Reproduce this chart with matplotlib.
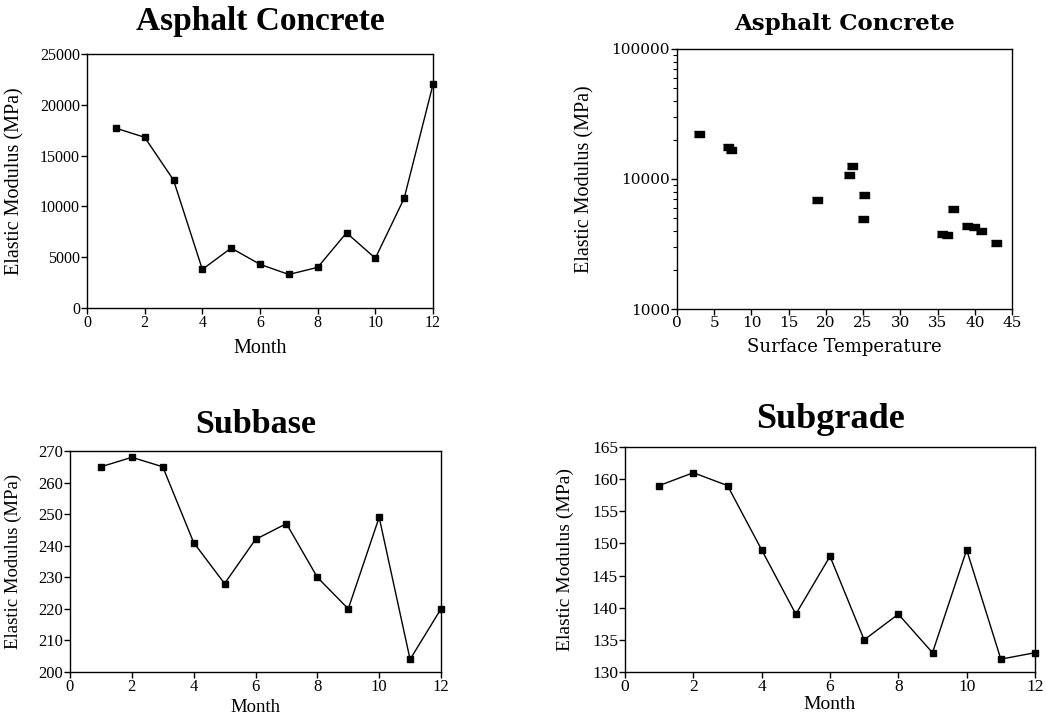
import matplotlib.pyplot as plt
from matplotlib.ticker import LogLocator, NullFormatter

plt.rcParams['font.family'] = ['Liberation Serif', 'DejaVu Serif']

months = [1, 2, 3, 4, 5, 6, 7, 8, 9, 10, 11, 12]
asphalt_month = [17700, 16800, 12600, 3800, 5900, 4300, 3300, 4000, 7400, 4900, 10800, 22000]
subbase = [265, 268, 265, 241, 228, 242, 247, 230, 220, 249, 204, 220]
subgrade = [159, 161, 159, 149, 139, 148, 135, 139, 133, 149, 132, 133]

surface_temp = [3.0, 6.8, 7.3, 18.8, 23.1, 23.5, 25.1, 25.0, 37.1, 35.6, 36.3, 38.9, 39.9, 40.8, 42.8]
asphalt_temp = [22200, 17700, 16800, 6850, 10800, 12700, 7490, 4950, 5880, 3770, 3690, 4380, 4300, 3980, 3240]

W, H = 1046, 716
fig = plt.figure(figsize=(W / 100, H / 100), dpi=100)


def add_ax(left, right, top, bottom):
    return fig.add_axes([left / W, 1 - bottom / H, (right - left) / W, (bottom - top) / H])


def style(ax, tick_size):
    for s in ax.spines.values():
        s.set_linewidth(1.0)
        s.set_color('black')
    ax.tick_params(direction='out', length=4, width=1, labelsize=tick_size, pad=1)


def line_panel(ax, y, ylim, yticks, title, title_size, title_pad,
               tick_size, lab_size, xpad, ypad):
    ax.plot(months, y, '-', color='black', lw=1.0, marker='s', ms=5, mfc='black', clip_on=False)
    ax.set_xlim(0, 12)
    ax.set_xticks(range(0, 13, 2))
    ax.set_ylim(*ylim)
    ax.set_yticks(yticks)
    style(ax, tick_size)
    ax.set_xlabel('Month', fontsize=lab_size, labelpad=xpad)
    ax.set_ylabel('Elastic Modulus (MPa)', fontsize=lab_size, labelpad=ypad)
    ax.set_title(title, fontsize=title_size, fontweight='bold', pad=title_pad)


ax1 = add_ax(87, 433, 54, 308)
line_panel(ax1, asphalt_month, (0, 25000), range(0, 25001, 5000), 'Asphalt Concrete',
           24, 17.5, 11.5, 14.5, 6, 11)

ax3 = add_ax(70, 441, 451, 672)
line_panel(ax3, subbase, (200, 270), range(200, 271, 10), 'Subbase',
           24.5, 13, 12, 13.5, 3, 12)

ax4 = add_ax(625, 1035, 447, 672)
line_panel(ax4, subgrade, (130, 165), range(130, 166, 5), 'Subgrade',
           26, 13.5, 12.5, 14, 1, 13)

# scatter of modulus vs surface temperature (log axis)
ax2 = add_ax(677, 1012, 49, 309)
ax2.scatter(surface_temp, asphalt_temp, marker=[(-1, -0.6), (1, -0.6), (1, 0.6), (-1, 0.6)],
            s=60, color='black')
ax2.set_yscale('log')
ax2.set_xlim(0, 45)
ax2.set_xticks(range(0, 46, 5))
ax2.set_ylim(1000, 100000)
ax2.set_yticks([1000, 10000, 100000])
ax2.set_yticklabels(['1000', '10000', '100000'])
ax2.yaxis.set_minor_locator(LogLocator(base=10, subs=range(2, 10)))
ax2.yaxis.set_minor_formatter(NullFormatter())
style(ax2, 11)
ax2.tick_params(which='minor', direction='out', length=3, width=0.8)
for lab in ax2.get_xticklabels() + ax2.get_yticklabels():
    lab.set_family('DejaVu Serif')
    lab.set_fontsize(11)
ax2.set_xlabel('Surface Temperature', fontsize=13, family='DejaVu Serif', labelpad=6)
ax2.set_ylabel('Elastic Modulus (MPa)', fontsize=14.5, labelpad=12)
ax2.set_title('Asphalt Concrete', fontsize=16.5, fontweight='bold', family='DejaVu Serif', pad=14)

fig.savefig('out.png', dpi=100)
